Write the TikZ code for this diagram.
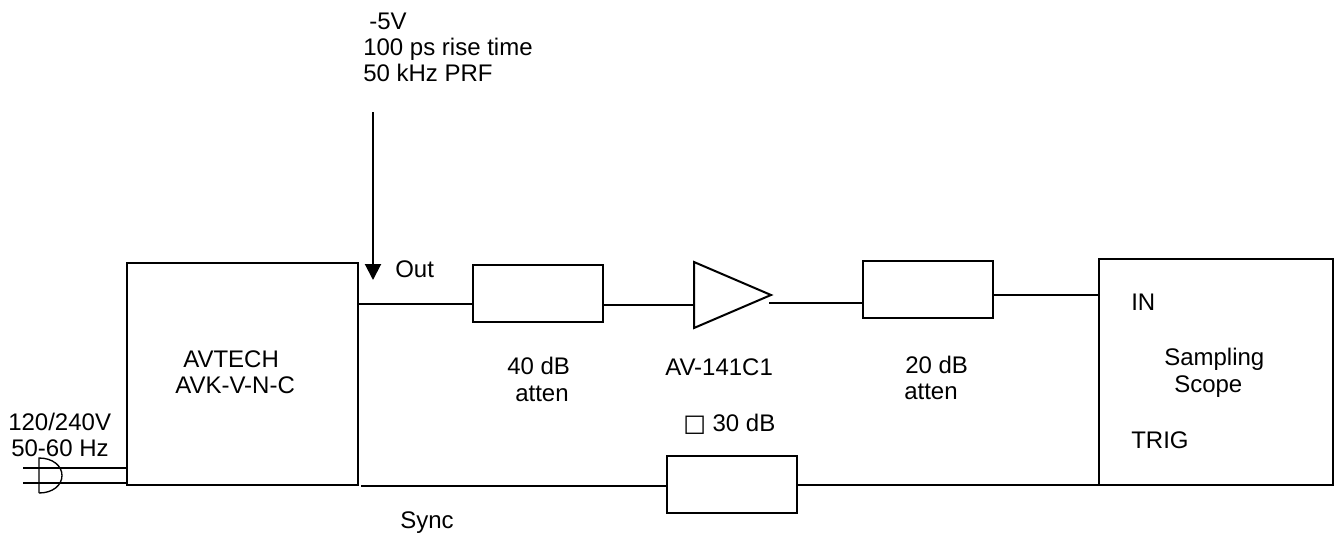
\documentclass[tikz,border=0pt]{standalone}
\usepackage{fontspec}
\setmainfont{Liberation Sans}
\newfontfamily\symfont{DejaVu Sans}
\usetikzlibrary{arrows.meta,positioning}
\tikzset{
    block/.style={rectangle,draw,line width=1.5pt,inner sep=0pt},
    wire/.style={-,line width=1.5pt},
    thinwire/.style={-,line width=1pt},
    pre/.style={-{Triangle[length=12pt,width=12pt]},line width=1.5pt},
    caption/.style={anchor=base west,inner sep=0pt,font=\fontsize{18}{20}\selectfont}
}
\begin{document}
\begin{tikzpicture}[x=0.75pt,y=-0.75pt]
    \useasboundingbox (0,0) rectangle (1336,540);

    \node[block,minimum width=173.25pt,minimum height=166.5pt] (source) at (242.5,374) {};
    \node[block,minimum width=97.5pt,minimum height=42.75pt]   (atten 1) at (538,293.5) {};
    \node[block,minimum width=97.5pt,minimum height=42.75pt]   (atten 2) at (928,289.5) {};
    \node[block,minimum width=97.5pt,minimum height=42.75pt]   (atten 3) at (732,484.5) {};
    \node[block,minimum width=175.5pt,minimum height=169.5pt]  (scope) at (1216,372) {};

    \coordinate (amp a) at (694,262);
    \coordinate (amp b) at (694,328);
    \coordinate (amp tip) at (771,295);
    \draw[wire,line join=miter] (amp a) -- (amp tip) -- (amp b) -- cycle;

    \coordinate (out) at (358,304);
    \coordinate (atten 1 in) at (473,304);
    \coordinate (atten 1 out) at (603,305);
    \coordinate (amp in) at (694,305);
    \coordinate (amp out) at (769,302.5);
    \coordinate (atten 2 in) at (863,302.5);
    \coordinate (atten 2 out) at (993,295);
    \coordinate (scope in) at (1099,295);
    \coordinate (sync) at (361,486);
    \coordinate (sync in) at (667,486);
    \coordinate (sync out) at (797,485);
    \coordinate (scope trig) at (1099,485);
    \coordinate (pulse top) at (373,112);
    \coordinate (pulse end) at (373,280);
    \coordinate (plug a) at (23,468);
    \coordinate (plug b) at (23,483);
    \coordinate (source a) at (127,468);
    \coordinate (source b) at (127,483);
    \coordinate (plug top) at (39,458);
    \coordinate (plug bottom) at (39,493);

    \draw[wire] (out) -- (atten 1 in);
    \draw[wire] (atten 1 out) -- (amp in);
    \draw[wire] (amp out) -- (atten 2 in);
    \draw[wire] (atten 2 out) -- (scope in);
    \draw[wire] (sync) -- (sync in);
    \draw[wire] (sync out) -- (scope trig);
    \draw[pre] (pulse top) -- (pulse end);

    \draw[thinwire] (plug a) -- (source a);
    \draw[thinwire] (plug b) -- (source b);
    \draw[thinwire] (plug bottom) -- (plug top) .. controls (53,458) and (62,466) .. (62,475.5) .. controls (62,485) and (53,493) .. (plug bottom);

    \node[caption] (level) at (369,29) {-5V};
    \node[caption] (rise) at (363,55) {100 ps rise time};
    \node[caption] (prf) at (363,81) {50 kHz PRF};
    \node[caption] (out label) at (395,277) {Out};
    \node[caption] (avtech) at (183,367) {AVTECH};
    \node[caption] (model) at (175,393) {AVK-V-N-C};
    \node[caption] (mains) at (8,430) {120/240V};
    \node[caption] (freq) at (11,456) {50-60 Hz};
    \node[caption] (atten 1 db) at (507,374) {40 dB};
    \node[caption] (atten 1 label) at (515,401) {atten};
    \node[caption] (amp label) at (665,375) {AV-141C1};
    \node[caption] (gain) at (683,431) {{\symfont □} 30 dB};
    \node[caption] (atten 2 db) at (905,373) {20 dB};
    \node[caption] (atten 2 label) at (904,399) {atten};
    \node[caption] (in label) at (1131,310) {IN};
    \node[caption] (sampling) at (1164,365) {Sampling};
    \node[caption] (scope label) at (1174,392) {Scope};
    \node[caption] (trig label) at (1131,448) {TRIG};
    \node[caption] (sync label) at (400,528) {Sync};
\end{tikzpicture}
\end{document}
